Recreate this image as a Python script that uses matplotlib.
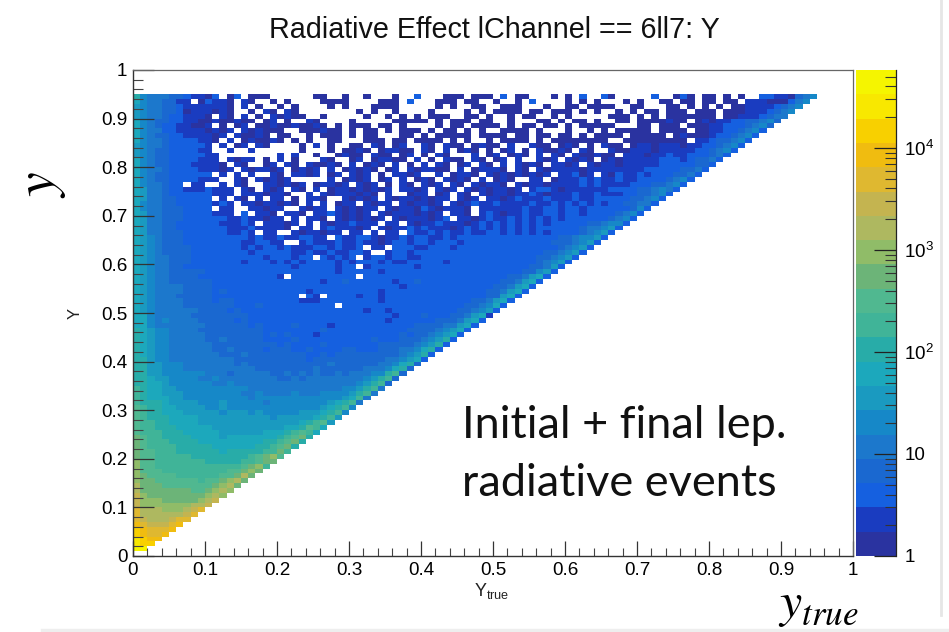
import numpy as np
import matplotlib
matplotlib.use("Agg")
import matplotlib.pyplot as plt
from matplotlib.colors import ListedColormap, BoundaryNorm
from matplotlib.lines import Line2D
from matplotlib.ticker import FixedLocator, NullFormatter

plt.rcParams['font.family'] = ['Liberation Sans', 'DejaVu Sans']
plt.rcParams['mathtext.default'] = 'regular'

W, H = 949, 632

title = "Radiative Effect lChannel == 6ll7: Y"
tick_values = [0, 0.1, 0.2, 0.3, 0.4, 0.5, 0.6, 0.7, 0.8, 0.9, 1]
tick_labels = ["0", "0.1", "0.2", "0.3", "0.4", "0.5", "0.6", "0.7", "0.8", "0.9", "1"]
cbar_ticks = [1, 10, 100, 1000, 10000]
cbar_labels = ["1", "10", r"$10^{2}$", r"$10^{3}$", r"$10^{4}$"]
z_max = 5.8e4

# contour band colours, bottom of the palette first
band_colors = ["#2a33a0", "#1a3cc0", "#1560e0", "#1a68d0", "#1c78cc",
               "#1688c8", "#1a9ac0", "#1ca8bc", "#28aca8", "#40b498",
               "#50b890", "#6cb478", "#90bc68", "#aeb860", "#c4b450",
               "#dfb830", "#f0bc10", "#f8d000", "#f8e800", "#f5f500"]

# band index per bin (0-9, a-j), '.' = empty; top row y=0.94 first, row r has r+1 bins
band_rows = [
    "8544433211 02.02.000. .....00..0 ..0...0..2 ...000.000 .2.00...0. 0.2..20... ..2..020.0 0.0.0..221 10345",
    "75443311.0 2110.10..0 .0....0000 ....000.2. ..000.00.. 0..0.2.... 0.0.0...0. 0..00.00.0 0.00.11100 0245",
    "6544332111 1110.1.0.. 0.0....0.0 ...0000... ..0.0..00. .000...0.. 00.0000..0 0...00.0.0 .0.0011112 345",
    "6544332011 1010..0.10 .10....... .0.0..0... .0....0.0. 0000.00.00 0.0.0..0.0 .00.000.00 0.00011123 45",
    "6544322111 0.10.1.0.1 0100..0... ..0..0.0.0 .000..00.0 ..0.00..0. 0.....000. 0.0.000000 0.00111234 4",
    "7543322110 0100100.01 .0..10.... 0.....0000 0.0.000.00 ..0...00.0 .00.0..00. 0000100.01 0112233453",
    "7543221100 1.0.01.001 0010010.0. 000.00.0.. ..0.00.000 0.0.00.00. 0.00000... 00.000.000 112223453",
    "7544221111 0101.10100 0..000100. 0.00.0.000 .0.00.0.0. .0000.0... 0..0.0.000 00.0000.00 11223452",
    "7543322111 101.10010. 00..0.000. 0.00...00. 0.00000.00 00.00.00.0 0.0.0000.0 0000.01000 1223452",
    "7544322221 10.1.01001 0.0.0..00. ..000.00.0 000.0.0..0 .0000.0.00 000000..00 0000000.11 233452",
    "6544322222 1.1.01.10. ...0.1.0.. 00.10.01.. 10.100.010 0.1..100.0 10.0.100.0 1101110112 23452",
    "6543322221 1..1..1... ...0...0.0 010.01100. 10.1.010.0 .01.0.1001 0.10..1001 1101111122 3452",
    "6543322222 11........ 1.1..0..01 00.100.01. 0.10...1.0 1.010.1.10 .100100.11 1011211222 342",
    "7543322221 11.1011.0. 1.0...10.. 01.01100.1 .0.100.10. 01.1..101. 1010.01011 1112221233 42",
    "7543322211 110.10..01 .10.10010. 1.010.1.0. 1.10.01.10 .1.1010.11 01.1011011 1112222233 2",
    "7544322221 1101.10110 1.0101.1.0 1010.01.10 1100.1.011 10.10.1011 1101111111 1222223342",
    "7543322222 2.1.1.1..1 0.1101.01. 101.0.1101 ..1.0110.1 01010101.1 1201.10211 212223342",
    "7543322221 11..10.101 01.....1.0 101.01.1.0 10.1010.1. 010..11.01 1121211211 22223452",
    "7544322.11 ..1.10..11 0101.01101 .101.0.10. 101.10.101 10.1011011 1121211112 2233452",
    "7644322111 2111.10.10 1.10.1.011 010101.110 1.101.1010 1101.12210 1111112222 334542",
    "7644322222 2111.11101 10..1.1011 1010.1..01 1.01.10.10 1101121011 1211211122 33452",
    "7644332222 2.1.10.1.1 1.0.110..1 0101.10110 1011.101.1 1012111211 1211222223 3452",
    "7544332222 2121.11011 010.1.1.01 1.1011.101 101.101211 2111121121 2121212233 442",
    "7544333222 2.11..1101 1..1011.10 1011.10110 2101110.11 1111211221 2212222223 52",
    "7644333222 2111.2.110 .110.11210 101.101110 101.110.12 1011211221 2212222345 2",
    "7644333222 2221121101 1.1.110.10 10101.1011 1012.11012 1121212121 2222223452",
    "7644332222 2211121.11 101.1.1011 2111.11.10 1121110121 2121212122 222334552",
    "7644332222 2221112111 10.11.1211 101.101121 2111012121 2121212222 22344562",
    "7644333222 2221121.11 ..1011011. 11.1.11.21 1212112112 2121212122 2234562",
    "7654333222 2222221211 2112211.21 1221011212 2112122222 2222222223 345562",
    "7654333222 2222211221 1..1211121 1211012212 2122212222 2222222233 34562",
    "7654333322 2222212122 1211122121 12.11.2221 1222122222 2222222223 4562",
    "7654333322 2222221222 2211211211 221..12212 2222222222 2222222334 562",
    "7654433322 2222222212 22122.2121 2.12212211 2222222222 2222223345 62",
    "7654433322 2222212221 2121222212 1222121122 2221222222 2222223456 2",
    "7654433222 2222222222 2212222212 2.12222221 2222222222 2222233462",
    "7654433333 2222222222 2222222212 2222122222 2222222222 222233562",
    "7654433332 2222222222 1.22222222 2.22222222 2222222222 22334672",
    "7654433333 3222222222 2222221223 2222221223 2222222222 2334672",
    "7654444333 3222222222 2222222222 2222222122 2222222222 334672",
    "7654444333 3232222222 2222122222 2222122222 2222222223 34672",
    "7654443333 3222222222 222.21.222 2122122222 2222222223 3672",
    "7654444333 3233222222 2221112222 2222122222 2222222334 672",
    "7654444333 3333222322 22222222.2 2222222222 2222223345 72",
    "7654444443 3332322222 2222222222 2212212222 2222233456 2",
    "7754444433 3333332222 2222222222 2222221222 3222334671",
    "7754544443 3333232222 2222222222 2222212222 223334672",
    "7754444444 3333332322 2232222122 2222222223 33344672",
    "8765544443 3333333322 2222223222 2222222233 3345672",
    "8765544444 3333333323 2322212222 2222222323 345672",
    "8765544444 3343333322 2232222222 2223222333 45682",
    "8765544444 4333333333 2322223222 2222333334 5682",
    "8765544444 4334333323 3322322223 3222333445 782",
    "8765544444 4433343333 3333223233 3333333456 82",
    "8865544444 4444333333 3333233333 3333344567 2",
    "8866555444 4444343333 3333333433 3333445783",
    "8866555444 4444444333 3333343333 334445783",
    "8866555555 4443444443 3434343343 44455893",
    "8876655554 4544444444 3343444444 4456893",
    "8877655555 5445444444 4444444444 456893",
    "9877665555 5555554444 4444444445 56894",
    "9877666555 5555544544 4454445555 6894",
    "9877766555 5555554555 5555555556 794",
    "9888766665 5565555545 5555555678 94",
    "a988776666 5565555555 5555556789 5",
    "a988777666 6656665655 5556667895",
    "a988877776 6666666665 666667896",
    "a998877776 6666666666 666789a6",
    "a998887777 7666666666 6778a97",
    "a999888777 7766666677 789a97",
    "ba99888877 7767777777 89ab8",
    "ba99988887 7777777788 9ab8",
    "ba99998888 8777777889 ab8",
    "baa9998888 8878888899 b9",
    "baa9999988 8888889abc a",
    "caa9999999 8888899abb",
    "caa9999999 99999abc9",
    "caaa999999 999aabcb",
    "cbaaaa9999 99aabdb",
    "cbbaaaaaa9 aabcdb",
    "dbbbaaaaaa abcdb",
    "dbbbbbbbaa bcdc",
    "ecbbbbbbbb cdc",
    "ecccbbbbbc de",
    "ecccccccdd e",
    "fdddcccdef",
    "fddddddef",
    "fedddeff",
    "gfeeefg",
    "hgfffg",
    "hgffg",
    "ihgg",
    "ihh",
    "jj",
]

n_bands = len(band_colors)
levels = np.logspace(0, np.log10(z_max), n_bands + 1)
cmap = ListedColormap(band_colors)
norm = BoundaryNorm(levels, n_bands)

# bin contents: centre of the band each cell was read as
counts = np.full((100, 100), np.nan)
for k, row in enumerate(band_rows):
    r = 94 - k
    cells = row.replace(" ", "")
    for c, ch in enumerate(cells):
        if ch != ".":
            counts[r, c] = np.sqrt(levels[int(ch, 20)] * levels[int(ch, 20) + 1])

edges = np.linspace(0, 1, 101)

fig = plt.figure(figsize=(W / 100, H / 100), dpi=100)

ax = fig.add_axes([133 / W, 1 - 556 / H, 720 / W, 486 / H])
mesh = ax.pcolormesh(edges, edges, np.ma.masked_invalid(counts), cmap=cmap, norm=norm,
                     antialiased=False, linewidth=0)
ax.set_xlim(0, 1)
ax.set_ylim(0, 1)

ax.set_xticks(tick_values)
ax.set_xticklabels(tick_labels)
ax.set_yticks(tick_values)
ax.set_yticklabels(tick_labels)
ax.set_xticks(np.arange(0, 1.001, 0.02), minor=True)
ax.set_yticks(np.arange(0, 1.001, 0.02), minor=True)
ax.tick_params(axis='x', which='major', direction='in', length=11, width=0.9, color='#333333',
               labelsize=13.6, pad=4)
ax.tick_params(axis='x', which='minor', direction='in', length=5.5, width=0.8, color='#444444')
ax.tick_params(axis='y', which='major', direction='in', length=15, width=0.9, color='#333333',
               labelsize=13.6, pad=4)
ax.tick_params(axis='y', which='minor', direction='in', length=7.5, width=0.8, color='#444444')
for side in ["left", "bottom"]:
    ax.spines[side].set_color('#333333')
    ax.spines[side].set_linewidth(1.0)
for side in ["top", "right"]:
    ax.spines[side].set_color('#666666')
    ax.spines[side].set_linewidth(0.9)

# colour palette on the right
cax = fig.add_axes([856 / W, 1 - 556 / H, 40 / W, 486 / H])
cax.pcolormesh([0, 1], levels, np.sqrt(levels[:-1] * levels[1:]).reshape(-1, 1),
               cmap=cmap, norm=norm, antialiased=False, linewidth=0)
cax.set_yscale('log')
cax.set_ylim(1, z_max)
cax.set_xlim(0, 1)
cax.set_xticks([])
cax.yaxis.tick_right()
cax.yaxis.set_major_locator(FixedLocator(cbar_ticks))
cax.set_yticklabels(cbar_labels)
cax.yaxis.set_minor_locator(FixedLocator([m * 10 ** d for d in range(5) for m in range(2, 10)
                                          if m * 10 ** d <= z_max]))
cax.yaxis.set_minor_formatter(NullFormatter())
cax.tick_params(axis='y', which='major', direction='in', length=16, width=0.9, color='#222222',
                labelsize=13.6, pad=6)
cax.tick_params(axis='y', which='minor', direction='in', length=8, width=0.8, color='#333333')
for side in ["top", "bottom", "left"]:
    cax.spines[side].set_visible(False)
cax.spines["right"].set_color('#222222')
cax.spines["right"].set_linewidth(0.9)

# text
fig.text(494 / W, 1 - 30 / H, title, ha='center', va='center', fontsize=20.7, color='#111111')
fig.text(75 / W, 1 - 313 / H, "Y", rotation=90, ha='center', va='center', fontsize=12, color='#222222')
fig.text(492 / W, 1 - 591 / H, r"Y$_{true}$", ha='center', va='center', fontsize=13, color='#222222')

fig.text(462 / W, 1 - 425 / H, "Initial + final lep.", ha='left', va='center',
         fontsize=32.5, family='Lato', color='#111111')
fig.text(462 / W, 1 - 484 / H, "radiative events", ha='left', va='center',
         fontsize=32.5, family='Lato', color='#111111')

fig.text(42 / W, 1 - 185 / H, r"$\mathit{y}$", rotation=90, ha='center', va='center',
         fontsize=40, math_fontfamily='stix', color='black')
fig.text(818 / W, 1 - 606 / H, r"$\mathit{y}_{\mathit{true}}$", ha='center', va='center',
         fontsize=36, math_fontfamily='stix', color='black')

# slide edges visible in the screenshot
fig.add_artist(Line2D([941 / W, 941 / W], [1 - 615 / H, 1], color='#e6e6e6', lw=2))
fig.add_artist(Line2D([42 / W, 1], [1 - 630 / H, 1 - 630 / H], color='#eeeeee', lw=2.5))

fig.savefig("out.png", dpi=100)
